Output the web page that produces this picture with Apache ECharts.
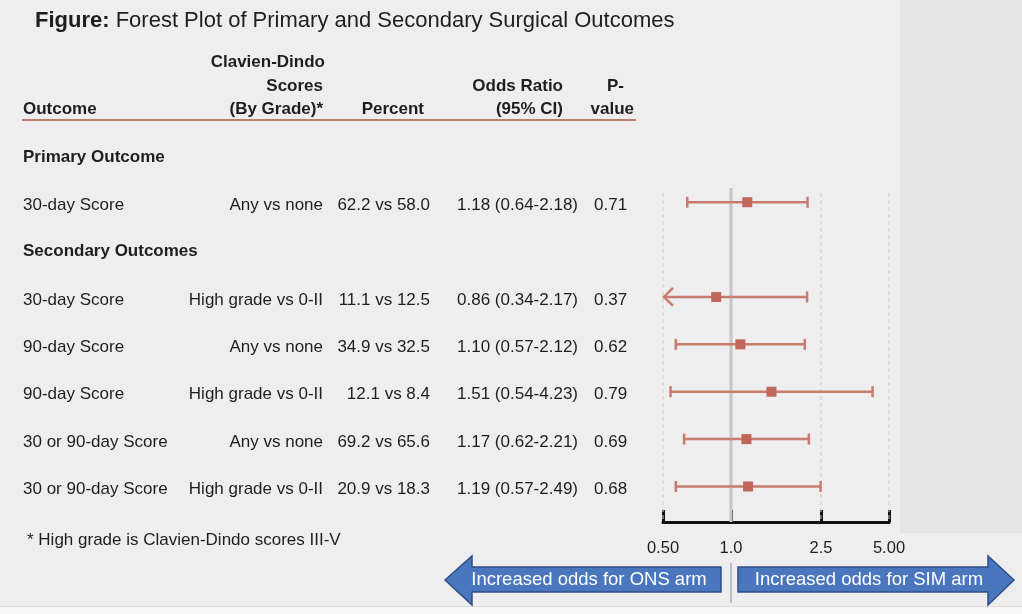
<!DOCTYPE html>
<html>
<head>
<meta charset="UTF-8">
<title>Forest Plot</title>
<script src="https://cdn.jsdelivr.net/npm/echarts@6/dist/echarts.min.js"></script>
<style>
  html, body { margin: 0; padding: 0; background: #eeeeee; }
  #chart { width: 1022px; height: 614px; }
</style>
</head>
<body>
<div id="chart"></div>
<script>
// ---- data ----
var rowPos = [1, 3, 4, 5, 6, 7];           // row slot of each outcome
var outcomes = ['30-day Score', '30-day Score', '90-day Score', '90-day Score', '30 or 90-day Score', '30 or 90-day Score'];
var grades = ['Any vs none', 'High grade vs 0-II', 'Any vs none', 'High grade vs 0-II', 'Any vs none', 'High grade vs 0-II'];
var percents = ['62.2 vs 58.0', '11.1 vs 12.5', '34.9 vs 32.5', '12.1 vs 8.4', '69.2 vs 65.6', '20.9 vs 18.3'];
var oddsRatio = [1.18, 0.86, 1.10, 1.51, 1.17, 1.19];
var ciLow = [0.64, 0.34, 0.57, 0.54, 0.62, 0.57];
var ciHigh = [2.18, 2.17, 2.12, 4.23, 2.21, 2.49];
var pValues = ['0.71', '0.37', '0.62', '0.79', '0.69', '0.68'];
var sectionLabels = ['Primary Outcome', 'Secondary Outcomes'];
var sectionPos = [0, 2];
var tickValues = [0.5, 1, 2.5, 5];
var tickLabels = ['0.50', '1.0', '2.5', '5.00'];

var xMin = 0.5, xMax = 5;
var markColor = '#c0675a';
var barColor = '#c87b6e';
var textColor = '#1e1e1e';
var font = '"Liberation Sans", Arial, sans-serif';

var myChart = echarts.init(document.getElementById('chart'));

function ciText(i) {
	return oddsRatio[i].toFixed(2) + ' (' + ciLow[i].toFixed(2) + '-' + ciHigh[i].toFixed(2) + ')';
}

function txt(x, y, s, align, bold) {
	return {
		type: 'text',
		style: {
			x: x, y: y, text: s, fill: textColor,
			font: (bold ? 'bold ' : '') + '17px ' + font,
			textAlign: align, textVerticalAlign: 'middle'
		}
	};
}

var headerY = [62, 86, 109];

var option = {
	backgroundColor: '#eeeeee',
	animation: false,
	grid: { left: 663, right: 133, top: 188, bottom: 92 },
	xAxis: {
		type: 'log',
		logBase: 10,
		min: xMin,
		max: xMax,
		axisLine: { show: true, lineStyle: { color: '#111', width: 3 } },
		axisTick: {
			show: true, inside: true, length: 12,
			customValues: tickValues,
			lineStyle: { color: '#111', width: 3 }
		},
		axisLabel: {
			customValues: tickValues,
			margin: 18,
			fontSize: 16.5,
			fontFamily: font,
			color: textColor,
			formatter: function (v) {
				for (var i = 0; i < tickValues.length; i++) {
					if (Math.abs(tickValues[i] - v) < 1e-6) return tickLabels[i];
				}
				return '';
			}
		},
		splitLine: { show: false },
		minorSplitLine: { show: false }
	},
	yAxis: {
		type: 'value',
		inverse: true,
		min: 0.7,
		max: 7.75,
		show: false,
		splitLine: { show: false }
	},
	graphic: [
		// grey strip on the right
		{ type: 'rect', z: 0, shape: { x: 900, y: 0, width: 122, height: 533 }, style: { fill: '#e4e4e4' } },
		{ type: 'rect', z: 0, shape: { x: 0, y: 607, width: 1022, height: 7 }, style: { fill: '#f6f6f6' } },
		{ type: 'line', z: 0, shape: { x1: 0, y1: 606.5, x2: 1022, y2: 606.5 }, style: { stroke: '#dedede', lineWidth: 1 } },
		// title
		{
			type: 'text',
			style: {
				x: 35, y: 21,
				text: '{b|Figure:}{n| Forest Plot of Primary and Secondary Surgical Outcomes}',
				textVerticalAlign: 'middle',
				rich: {
					b: { fontWeight: 'bold', fontSize: 22, fontFamily: font, fill: textColor },
					n: { fontSize: 22, fontFamily: font, fill: textColor }
				}
			}
		},
		// table header
		txt(325, headerY[0], 'Clavien-Dindo', 'right', true),
		txt(323, headerY[1], 'Scores', 'right', true),
		txt(563, headerY[1], 'Odds Ratio', 'right', true),
		txt(624, headerY[1], 'P-', 'right', true),
		txt(23, headerY[2], 'Outcome', 'left', true),
		txt(323, headerY[2], '(By Grade)*', 'right', true),
		txt(424, headerY[2], 'Percent', 'right', true),
		txt(563, headerY[2], '(95% CI)', 'right', true),
		txt(634, headerY[2], 'value', 'right', true),
		{ type: 'line', shape: { x1: 22, y1: 120, x2: 636, y2: 120 }, style: { stroke: '#c27a6f', lineWidth: 2 } },
		// footnote
		txt(27, 540, '* High grade is Clavien-Dindo scores III-V', 'left', false),
		// direction arrows
		{
			type: 'polygon',
			shape: { points: [[445, 580], [472, 556], [472, 567], [721, 567], [721, 592], [472, 592], [472, 605]] },
			style: { fill: '#4a76bd', stroke: '#2d4f88', lineWidth: 1.5 }
		},
		{
			type: 'polygon',
			shape: { points: [[1014, 580], [988, 556], [988, 567], [738, 567], [738, 592], [988, 592], [988, 605]] },
			style: { fill: '#4a76bd', stroke: '#2d4f88', lineWidth: 1.5 }
		},
		{
			type: 'text',
			style: { x: 589, y: 580, text: 'Increased odds for ONS arm', fill: '#ffffff', font: '18.5px ' + font, textAlign: 'center', textVerticalAlign: 'middle' }
		},
		{
			type: 'text',
			style: { x: 869, y: 580, text: 'Increased odds for SIM arm', fill: '#ffffff', font: '18.5px ' + font, textAlign: 'center', textVerticalAlign: 'middle' }
		},
		{ type: 'line', shape: { x1: 731, y1: 563, x2: 731, y2: 603 }, style: { stroke: '#8390a5', lineWidth: 1 } }
	],
	series: [
		{
			// reference lines at the tick values
			type: 'custom',
			z: 1,
			silent: true,
			data: tickValues.map(function (v) { return [v, 1]; }),
			encode: { x: 0, y: 1 },
			renderItem: function (params, api) {
				var cs = params.coordSys;
				var x = api.coord([api.value(0), 1])[0];
				var isOne = Math.abs(api.value(0) - 1) < 1e-6;
				return {
					type: 'line',
					shape: { x1: x, y1: isOne ? cs.y : cs.y + 5, x2: x, y2: cs.y + cs.height },
					style: isOne
						? { stroke: '#c6c6c6', lineWidth: 3 }
						: { stroke: '#cbcbcb', lineWidth: 1, lineDash: [4, 3] }
				};
			}
		},
		{
			// confidence intervals
			type: 'custom',
			z: 2,
			silent: true,
			data: rowPos.map(function (k, i) { return [k, ciLow[i], ciHigh[i]]; }),
			encode: { y: 0, x: [1, 2] },
			renderItem: function (params, api) {
				var k = api.value(0);
				var lo = api.value(1), hi = api.value(2);
				var clipped = lo < xMin;
				var y = api.coord([1, k])[1];
				var x1 = api.coord([clipped ? xMin : lo, k])[0];
				var x2 = api.coord([hi, k])[0];
				var st = { stroke: barColor, lineWidth: 2.5 };
				var kids = [
					{ type: 'line', shape: { x1: x1, y1: y, x2: x2, y2: y }, style: st },
					{ type: 'line', shape: { x1: x2, y1: y - 5.5, x2: x2, y2: y + 5.5 }, style: st }
				];
				if (clipped) {
					kids.push({ type: 'polyline', shape: { points: [[x1 + 10, y - 9], [x1 + 1, y], [x1 + 10, y + 9]] }, style: { stroke: barColor, lineWidth: 2.5, fill: null } });
				} else {
					kids.push({ type: 'line', shape: { x1: x1, y1: y - 5.5, x2: x1, y2: y + 5.5 }, style: st });
				}
				return { type: 'group', children: kids };
			}
		},
		{
			// point estimates
			type: 'scatter',
			z: 3,
			silent: true,
			symbol: 'rect',
			symbolSize: 10,
			itemStyle: { color: markColor, opacity: 1 },
			data: rowPos.map(function (k, i) { return [oddsRatio[i], k]; })
		},
		{
			// table rows, placed on the same row scale
			type: 'custom',
			silent: true,
			data: rowPos.map(function (k) { return [1, k]; }),
			encode: { x: 0, y: 1 },
			renderItem: function (params, api) {
				var i = params.dataIndex;
				var y = api.coord([1, api.value(1)])[1] + 3;
				return {
					type: 'group',
					children: [
						txt(23, y, outcomes[i], 'left', false),
						txt(323, y, grades[i], 'right', false),
						txt(430, y, percents[i], 'right', false),
						txt(578, y, ciText(i), 'right', false),
						txt(594, y, pValues[i], 'left', false)
					]
				};
			}
		},
		{
			// section headings
			type: 'custom',
			silent: true,
			data: sectionPos.map(function (k) { return [1, k]; }),
			encode: { x: 0, y: 1 },
			renderItem: function (params, api) {
				var y = api.coord([1, api.value(1)])[1] + 2;
				return txt(23, y, sectionLabels[params.dataIndex], 'left', true);
			}
		}
	]
};

myChart.setOption(option);
</script>
</body>
</html>
